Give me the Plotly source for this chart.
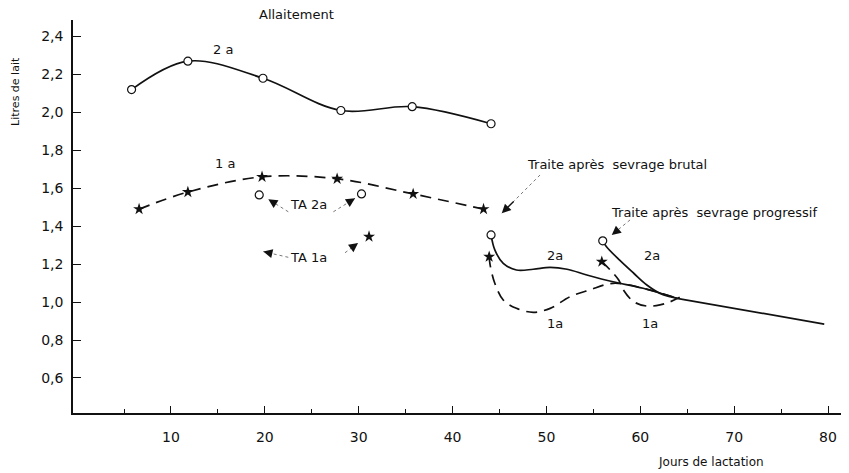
import plotly.graph_objects as go

# ---------------- data (days of lactation, litres of milk) ----------------
days_2a_allait = [5.8, 11.8, 19.8, 28.1, 35.7, 44.1]
litres_2a_allait = [2.12, 2.27, 2.18, 2.01, 2.03, 1.94]

days_1a_allait = [6.6, 11.8, 19.7, 27.7, 35.8, 43.3]
litres_1a_allait = [1.49, 1.58, 1.66, 1.65, 1.57, 1.49]

days_ta_2a = [19.4, 30.3]
litres_ta_2a = [1.565, 1.57]
days_ta_1a = [31.1]
litres_ta_1a = [1.345]

days_brutal_2a = [44.1, 44.5, 45.4, 46.8, 48.6, 50.4, 52.2, 54.3, 57.1, 60.3, 63.9]
litres_brutal_2a = [1.354, 1.275, 1.204, 1.169, 1.173, 1.183, 1.173, 1.143, 1.107, 1.073, 1.02]

days_brutal_1a = [43.9, 44.0, 44.5, 45.4, 46.8, 48.6, 50.4, 52.5, 54.6, 57.1, 60.3, 63.9]
litres_brutal_1a = [1.239, 1.196, 1.099, 1.011, 0.967, 0.946, 0.967, 1.028, 1.064, 1.099, 1.073, 1.02]

days_prog_2a = [56.0, 56.4, 57.8, 59.3, 60.7, 62.1, 63.2, 63.9]
litres_prog_2a = [1.323, 1.292, 1.221, 1.152, 1.090, 1.046, 1.028, 1.02]

days_prog_1a = [55.9, 56.8, 57.7, 58.2, 59.3, 60.7, 62.1, 63.2, 64.2]
litres_prog_1a = [1.213, 1.169, 1.116, 1.064, 1.002, 0.979, 0.985, 1.002, 1.025]

days_common = [63.9, 79.6]
litres_common = [1.02, 0.884]

x_tick_vals = [10, 20, 30, 40, 50, 60, 70, 80]
x_minor_vals = [5, 15, 25, 35, 45, 55, 65, 75]
y_tick_vals = [0.6, 0.8, 1.0, 1.2, 1.4, 1.6, 1.8, 2.0, 2.2, 2.4]
y_tick_text = ["0,6", "0,8", "1,0", "1,2", "1,4", "1,6", "1,8", "2,0", "2,2", "2,4"]

# arrows: (head_day, head_litre, tail_day, tail_litre)
arrows = [
    (20.37, 1.542, 22.5, 1.476),
    (29.61, 1.547, 27.3, 1.476),
    (19.84, 1.266, 22.5, 1.236),
    (29.93, 1.311, 28.54, 1.260),
    (45.24, 1.468, 49.32, 1.670),
    (56.96, 1.354, 58.91, 1.433),
]

# text labels: (day, litre, text)
labels = [
    (15.5, 2.329, "2 a"),
    (15.8, 1.728, "1 a"),
    (24.6, 1.512, "TA 2a"),
    (24.6, 1.237, "TA 1a"),
    (50.9, 1.248, "2a"),
    (50.9, 0.888, "1a"),
    (61.2, 1.248, "2a"),
    (61.0, 0.888, "1a"),
    (57.5, 1.723, "Traite après  sevrage brutal"),
    (67.9, 1.470, "Traite après  sevrage progressif"),
]

FONT = "DejaVu Sans"
BLACK = "#111111"
DASH = "11px,7px"

fig = go.Figure()

def line(x, y, dash="solid"):
    fig.add_trace(go.Scatter(x=x, y=y, mode="lines", line=dict(color=BLACK, width=1.7, dash=dash, shape="spline", smoothing=1.0),
                             hoverinfo="skip", showlegend=False))

def circles(x, y):
    fig.add_trace(go.Scatter(x=x, y=y, mode="markers", marker=dict(symbol="circle", size=8, color="white", line=dict(color=BLACK, width=1.2)),
                             showlegend=False))

def stars(x, y):
    fig.add_trace(go.Scatter(x=x, y=y, mode="markers", marker=dict(symbol="star", size=9, color=BLACK, line=dict(width=0)),
                             showlegend=False))

line(days_2a_allait, litres_2a_allait)
line(days_1a_allait, litres_1a_allait, DASH)
line(days_brutal_2a, litres_brutal_2a)
line(days_brutal_1a, litres_brutal_1a, DASH)
line(days_prog_2a, litres_prog_2a)
line(days_prog_1a, litres_prog_1a, DASH)
line(days_common, litres_common)

circles(days_2a_allait, litres_2a_allait)
stars(days_1a_allait, litres_1a_allait)
circles(days_ta_2a, litres_ta_2a)
stars(days_ta_1a, litres_ta_1a)
circles(days_brutal_2a[:1], litres_brutal_2a[:1])
stars(days_brutal_1a[:1], litres_brutal_1a[:1])
circles(days_prog_2a[:1], litres_prog_2a[:1])
stars(days_prog_1a[:1], litres_prog_1a[:1])

# dotted arrow shafts + solid heads
for hx, hy, tx, ty in arrows:
    fig.add_trace(go.Scatter(x=[tx, hx], y=[ty, hy], mode="lines", line=dict(color="#555555", width=0.8, dash="dot"),
                             hoverinfo="skip", showlegend=False))
    fig.add_annotation(x=hx, y=hy, ax=hx + (tx - hx) * 0.35, ay=hy + (ty - hy) * 0.35, xref="x", yref="y", axref="x", ayref="y",
                       text="", showarrow=True, arrowhead=2, arrowsize=1.3, arrowwidth=1.4, arrowcolor=BLACK)

for lx, ly, t in labels:
    fig.add_annotation(x=lx, y=ly, xref="x", yref="y", text=t, showarrow=False,
                       font=dict(family=FONT, size=13, color=BLACK))

fig.add_annotation(x=0.289, y=1.0, xref="paper", yref="paper", text="Allaitement", showarrow=False,
                   xanchor="center", yanchor="bottom", yshift=-4, font=dict(family=FONT, size=13, color=BLACK))
fig.add_annotation(x=0.823, y=0, xref="paper", yref="paper", text="Jours de lactation", showarrow=False,
                   xanchor="center", yanchor="middle", yshift=-49, font=dict(family=FONT, size=12, color=BLACK))
fig.add_annotation(x=0, y=0.817, xref="paper", yref="paper", text="Litres de lait", showarrow=False, textangle=-90,
                   xanchor="center", yanchor="middle", xshift=-57, font=dict(family=FONT, size=11, color=BLACK))

# the page body adds an 8px margin, so the figure is 8px smaller and offset accordingly
fig.update_layout(
    width=841, height=465,
    margin=dict(l=65, r=1, t=12, b=60),
    paper_bgcolor="white", plot_bgcolor="white",
    showlegend=False,
    xaxis=dict(range=[-0.44, 82.13], showgrid=False, zeroline=False, showline=True, linecolor=BLACK, linewidth=1.5,
               ticks="inside", ticklen=7, tickwidth=1.3, tickcolor=BLACK,
               tickvals=x_tick_vals, ticktext=[str(v) for v in x_tick_vals], ticklabelstandoff=10,
               tickfont=dict(family=FONT, size=14, color=BLACK),
               minor=dict(tickvals=x_minor_vals, ticks="inside", ticklen=4, tickwidth=1.2, tickcolor=BLACK, showgrid=False)),
    yaxis=dict(range=[0.4153, 2.487], showgrid=False, zeroline=False, showline=True, linecolor=BLACK, linewidth=1.5,
               ticks="inside", ticklen=8, tickwidth=1.3, tickcolor=BLACK,
               tickvals=y_tick_vals, ticktext=y_tick_text, ticklabelstandoff=5,
               tickfont=dict(family=FONT, size=14, color=BLACK)),
)

fig.write_html("out.html")
